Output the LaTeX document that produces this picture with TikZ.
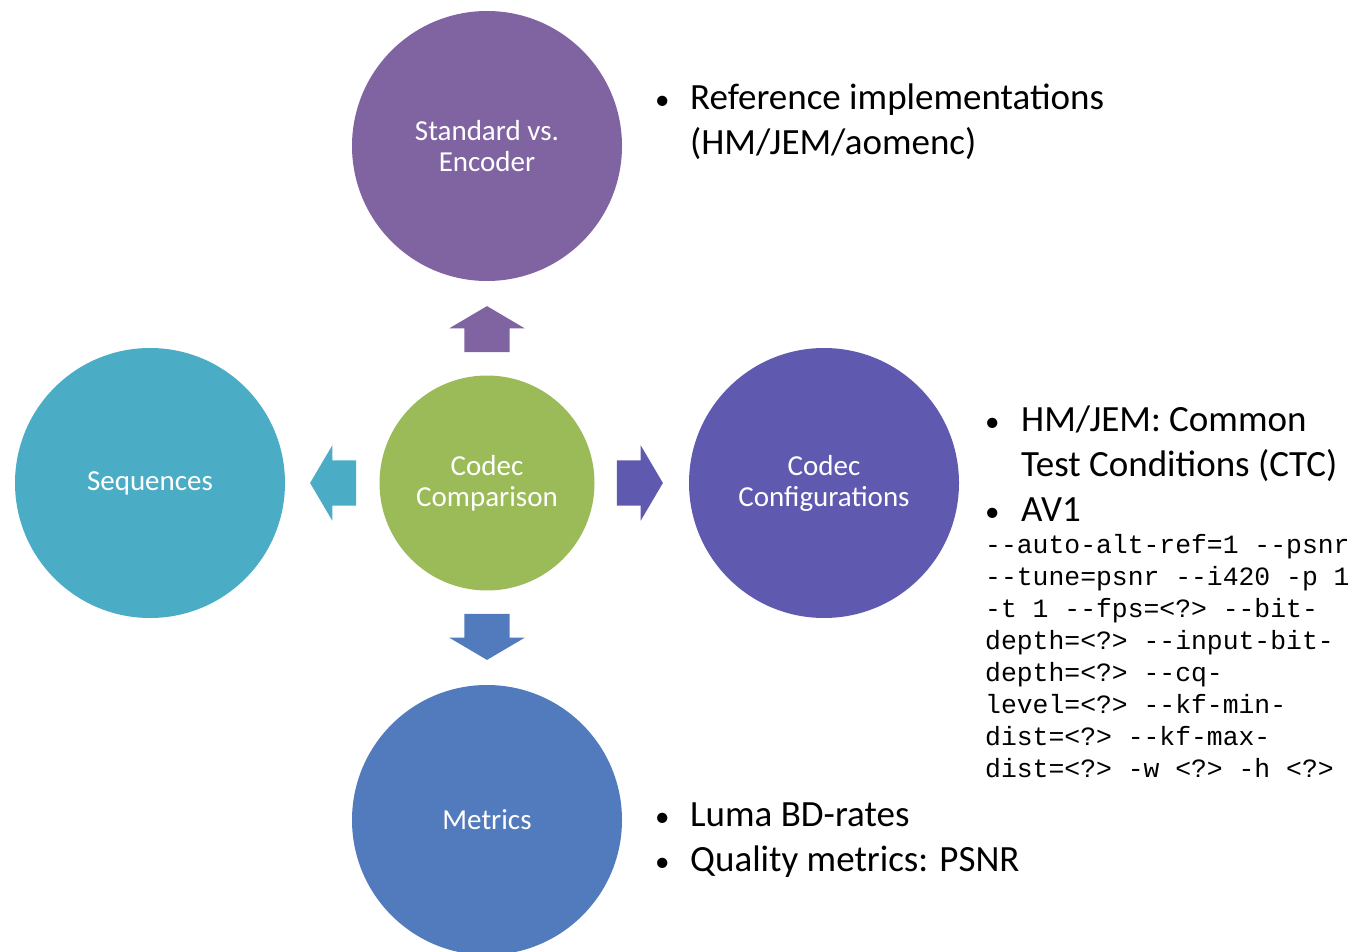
\documentclass[tikz,border=0pt]{standalone}
\usepackage{fontspec}
\setmainfont{Carlito}
\setmonofont{Liberation Mono}
\definecolor{cpurple}{HTML}{8064A2}
\definecolor{cteal}{HTML}{4BACC6}
\definecolor{cgreen}{HTML}{9BBB59}
\definecolor{cindigo}{HTML}{5F5AAF}
\definecolor{cblue}{HTML}{527BBD}
\tikzstyle{bigc}=[circle,inner sep=0pt,minimum size=270pt,text=white,align=center,
font=\fontsize{29}{31}\selectfont]
\tikzstyle{midc}=[bigc,minimum size=215pt]
\tikzstyle{blk}=[single arrow,minimum width=75pt,anchor=tail,
minimum height=46pt,single arrow tip angle=119,single arrow head extend=15pt]
\tikzstyle{hblk}=[blk,inner xsep=0pt,inner ysep=22.5pt]
\tikzstyle{vblk}=[blk,inner xsep=22.5pt,inner ysep=0pt]
\tikzstyle{blist}=[anchor=base west,inner sep=0pt,font=\fontsize{37}{45}\selectfont]
\tikzstyle{code}=[anchor=base west,inner sep=0pt,font=\ttfamily\fontsize{26.4}{32}\selectfont]
\newcommand{\bul}{{\fontsize{29}{29}\selectfont\textbullet}}
\usetikzlibrary{positioning,shapes,shapes.arrows,calc}

\begin{document}
\begin{tikzpicture}[x=1pt,y=-1pt,node distance=337pt]
            \useasboundingbox (0,0) rectangle (1355,952);

            % CIRCLES

            \node[midc,fill=cgreen] (cmp) at (487,483) {Codec\\Comparison};
            \node[bigc,fill=cpurple,above of=cmp] (std) {Standard vs.\\Encoder};
            \node[bigc,fill=cteal,left of=cmp] (seq) {Sequences};
            \node[bigc,fill=cindigo,right of=cmp] (cfg) {Codec\\Configurations};
            \node[bigc,fill=cblue,below of=cmp] (met) {Metrics};

            % BLOCK ARROWS

            \node[vblk,fill=cpurple,shape border rotate=90] (a1) at ([yshift=23pt]cmp.north) {};
            \node[hblk,fill=cteal,shape border rotate=180] (a2) at ([xshift=-23pt]cmp.west) {};
            \node[hblk,fill=cindigo] (a3) at ([xshift=22pt]cmp.east) {};
            \node[vblk,fill=cblue,shape border rotate=270] (a4) at ([yshift=-23pt]cmp.south) {};

            % BULLET TEXTS

            \node[blist] (l1) at (655,110) {\begin{tabular}[t]{@{}p{35pt}@{}l@{}}
            \bul & Reference implementations\\
            & (HM/JEM/aomenc)\end{tabular}};
            \node[blist] (l2) at (985,431) {\begin{tabular}[t]{@{}p{36pt}@{}l@{}}
            \bul & HM/JEM: Common\\
            & Test Conditions (CTC)\\
            \bul & AV1\end{tabular}};
            \node[code] (l3) at (985,553) {\begin{tabular}[t]{@{}l@{}}
            --auto-alt-ref=1 --psnr\\
            --tune=psnr --i420 -p 1\\
            -t 1 --fps=<?> --bit-\\
            depth=<?> --input-bit-\\
            depth=<?> --cq-\\
            level=<?> --kf-min-\\
            dist=<?> --kf-max-\\
            dist=<?> -w <?> -h <?>\end{tabular}};
            \node[blist] (l4) at (655,826) {\begin{tabular}[t]{@{}p{35pt}@{}l@{}}
            \bul & Luma BD-rates\\
            \bul & Quality metrics: PSNR\end{tabular}};

\end{tikzpicture}
\end{document}
